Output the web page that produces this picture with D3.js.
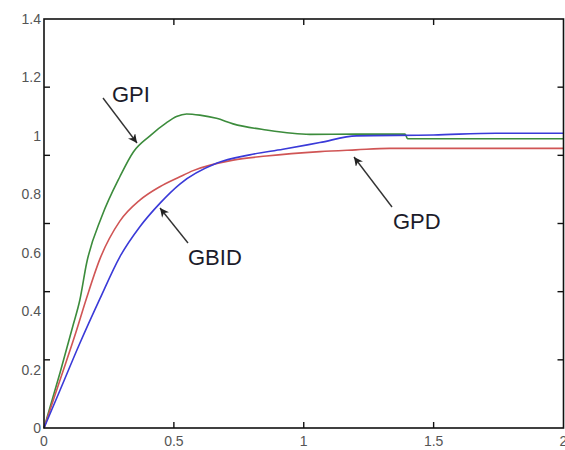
<!DOCTYPE html>
<html><head><meta charset="utf-8">
<script src="https://cdn.jsdelivr.net/npm/d3@7"></script>
<style>body{margin:0;background:#fff}svg{display:block}</style>
</head><body>
<svg id="chart" width="565" height="450"></svg>
<script>
// Data
const tGPI  = [0,0.062,0.113,0.138,0.164,0.222,0.292,0.344,0.408,0.472,0.51,0.549,0.6,0.664,0.728,0.856,1.023,1.2,1.39,1.4,2.0];
const vGPI  = [0,0.19,0.355,0.438,0.564,0.723,0.86,0.945,1.0,1.045,1.066,1.075,1.071,1.06,1.041,1.02,1.005,1.006,1.006,0.99,0.99];
const tGPD  = [0,0.062,0.122,0.164,0.215,0.292,0.369,0.446,0.523,0.574,0.728,0.856,1.062,1.2,1.33,2.0];
const vGPD  = [0,0.165,0.325,0.445,0.578,0.708,0.78,0.826,0.86,0.881,0.917,0.931,0.946,0.952,0.957,0.957];
const tGBID = [0,0.062,0.138,0.215,0.292,0.369,0.446,0.523,0.664,0.792,0.92,1.062,1.203,1.5,1.74,2.0];
const vGBID = [0,0.13,0.29,0.442,0.586,0.689,0.769,0.835,0.906,0.935,0.954,0.977,1.0,1.003,1.009,1.009];
const xTicks = [0,0.5,1,1.5,2];
const xTickLabels = ["0","0.5","1","1.5","2"];
const yTicks = [0,0.2,0.4,0.6,0.8,1,1.2,1.4];
const yTickLabels = ["0","0.2","0.4","0.6","0.8","1","1.2","1.4"];
const yMarkTicks = [0.2,0.4,0.6,0.8,1.0];
const seriesNames = ["GPI","GPD","GBID"];
const seriesColors = ["#3c8c3c","#d05555","#3a3ad8"];
const annotations = [
  {label:"GPI",  tx:112, ty:102, from:[103,98],  to:[137,143]},
  {label:"GBID", tx:188, ty:265, from:[188,243], to:[160,208]},
  {label:"GPD",  tx:393, ty:229, from:[392,207], to:[354,157]}
];

const L=44, R=563.5, T=19, B=428;
const svg = d3.select("#chart");
const x = d3.scaleLinear().domain([0,2]).range([L,R]);
const y = d3.scaleLinear().domain([0,1.4]).range([B,T]);
const yMark = d3.scaleLinear().domain([0,1.2]).range([B,T]); // tick marks as drawn in source

const series = [
  {t:tGPI, v:vGPI},
  {t:tGPD, v:vGPD},
  {t:tGBID, v:vGBID}
];
const line = d3.line().x(d=>x(d[0])).y(d=>y(d[1])).curve(d3.curveMonotoneX);
series.forEach((s,i)=>{
  const pts = s.t.map((t,j)=>[t,s.v[j]]);
  svg.append("path").attr("d",line(pts)).attr("fill","none")
    .attr("stroke",seriesColors[i]).attr("stroke-width",1.6);
});

// frame
svg.append("rect").attr("x",L).attr("y",T).attr("width",R-L).attr("height",B-T)
  .attr("fill","none").attr("stroke","#111").attr("stroke-width",1.6);

// tick marks
const tg = svg.append("g").attr("stroke","#111").attr("stroke-width",1.4);
xTicks.slice(1,-1).forEach(v=>{
  tg.append("line").attr("x1",x(v)).attr("x2",x(v)).attr("y1",B).attr("y2",B-6);
  tg.append("line").attr("x1",x(v)).attr("x2",x(v)).attr("y1",T).attr("y2",T+6);
});
yMarkTicks.forEach(v=>{
  tg.append("line").attr("x1",L).attr("x2",L+6).attr("y1",yMark(v)).attr("y2",yMark(v));
  tg.append("line").attr("x1",R).attr("x2",R-6).attr("y1",yMark(v)).attr("y2",yMark(v));
});

// tick labels
const lab = svg.append("g").attr("font-family","Liberation Sans, Arial, sans-serif")
  .attr("font-size",14).attr("fill","#555");
xTicks.forEach((v,i)=>{
  lab.append("text").attr("x",x(v)).attr("y",446).attr("text-anchor","middle").text(xTickLabels[i]);
});
yTicks.forEach((v,i)=>{
  lab.append("text").attr("x",41).attr("y",y(v)+5).attr("text-anchor","end").text(yTickLabels[i]);
});

// annotations
const defs = svg.append("defs");
defs.append("marker").attr("id","ah").attr("viewBox","0 0 10 10").attr("refX",10).attr("refY",5)
  .attr("markerWidth",9).attr("markerHeight",9).attr("markerUnits","userSpaceOnUse").attr("orient","auto")
  .append("path").attr("d","M0,0 L10,5 L0,10 L3,5 Z").attr("fill","#222");
annotations.forEach(a=>{
  svg.append("line").attr("x1",a.from[0]).attr("y1",a.from[1]).attr("x2",a.to[0]).attr("y2",a.to[1])
    .attr("stroke","#333").attr("stroke-width",1.4).attr("marker-end","url(#ah)");
  svg.append("text").attr("x",a.tx).attr("y",a.ty).attr("font-family","Liberation Sans, Arial, sans-serif")
    .attr("font-size",22).attr("fill","#1c1c2a").text(a.label);
});
</script>
</body></html>
